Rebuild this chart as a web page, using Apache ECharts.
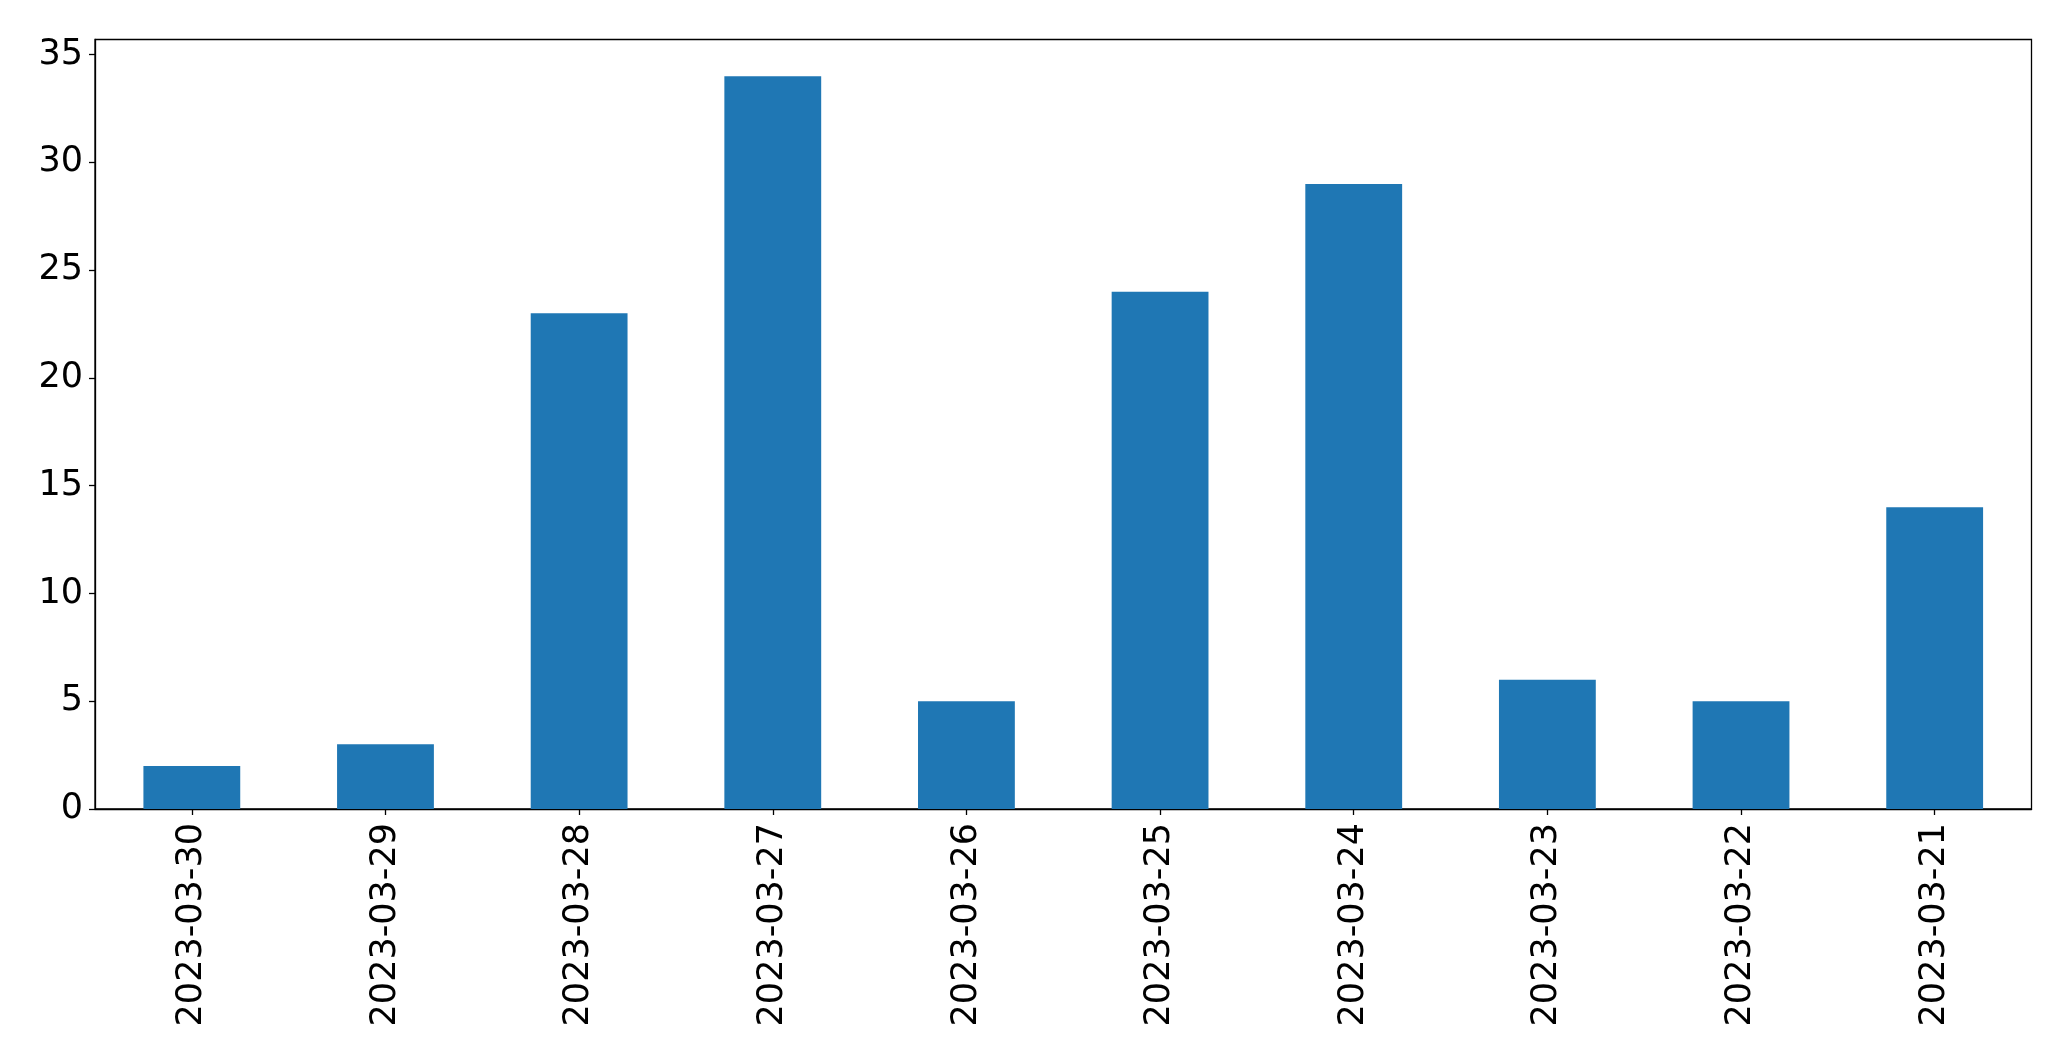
<!DOCTYPE html>
<html>
<head>
<meta charset="utf-8">
<script src="https://cdn.jsdelivr.net/npm/echarts@6/dist/echarts.min.js"></script>
<style>html,body{margin:0;padding:0;background:#fff}#c{width:2071px;height:1061px}</style>
</head>
<body>
<div id="c"></div>
<script>
const categories = ['2023-03-30','2023-03-29','2023-03-28','2023-03-27','2023-03-26','2023-03-25','2023-03-24','2023-03-23','2023-03-22','2023-03-21'];
const counts = [2, 3, 23, 34, 5, 24, 29, 6, 5, 14];
const yTicks = [0, 5, 10, 15, 20, 25, 30, 35];

const chart = echarts.init(document.getElementById('c'), null, {renderer: 'canvas'});
chart.setOption({
  animation: false,
  backgroundColor: '#fff',
  grid: {left: 95, right: 39.5, top: 39.5, bottom: 252, show: true, borderColor: '#000', borderWidth: 1.3, backgroundColor: 'transparent'},
  xAxis: {
    type: 'category',
    data: categories,
    boundaryGap: true,
    axisLine: {show: true, lineStyle: {color: '#000', width: 1.3}},
    axisTick: {show: true, alignWithLabel: true, length: 6, lineStyle: {color: '#000', width: 1.3}},
    axisLabel: {rotate: 90, margin: 14, fontFamily: 'DejaVu Sans', fontSize: 35, color: '#000', interval: 0},
    splitLine: {show: false}
  },
  yAxis: {
    type: 'value',
    min: 0,
    max: 35.7,
    axisLine: {show: true, lineStyle: {color: '#000', width: 1.3}},
    axisTick: {show: true, length: 6, lineStyle: {color: '#000', width: 1.3}, customValues: yTicks},
    axisLabel: {margin: 12, fontFamily: 'DejaVu Sans', fontSize: 35, color: '#000', customValues: yTicks},
    splitLine: {show: false}
  },
  series: [{
    type: 'bar',
    data: counts,
    barWidth: '50%',
    itemStyle: {color: '#1f77b4'}
  }]
});
</script>
</body>
</html>
